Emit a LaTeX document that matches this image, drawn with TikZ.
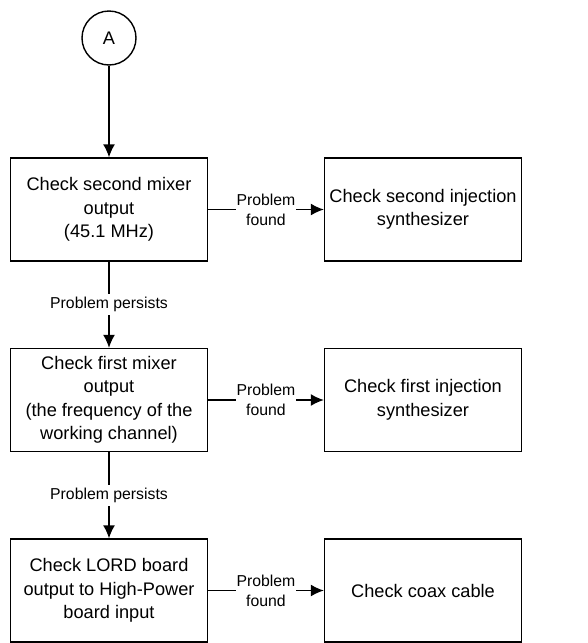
\documentclass[tikz,border=0pt]{standalone}
\usepackage{fontspec}
\setmainfont{Liberation Sans}
\usetikzlibrary{positioning,arrows.meta}
\newdimen\rowDist
\newdimen\colDist

\begin{document}
\begin{tikzpicture}[
    x=1pt, y=1pt,
    line width=1.4pt,
    check/.style={%
      draw,
      rectangle,
      minimum width=197pt,
      minimum height=103pt,
      align=center,
      font=\fontsize{18.2}{23.5}\selectfont,
    },
    connector/.style={%
      draw,
      circle,
      minimum size=54pt,
      inner sep=0pt,
      font=\fontsize{18.2}{23.5}\selectfont,
    },
    edgelabel/.style={%
      fill=white,
      align=center,
      inner xsep=1pt,
      inner ysep=3pt,
      font=\fontsize{15.8}{20}\selectfont,
    },
    arrow/.style={-{Latex[length=13pt,width=12pt]}},
  ]
    \rowDist=190.5pt
    \colDist=314pt
    \useasboundingbox (0,0) rectangle (587,-643);

    \node [connector] (A) at (109,-38) {A};
    \node [check] (B) at (109,-209.5) {Check second mixer\\output\\(45.1 MHz)};
    \path (B) ++(\colDist,0) node [check] (C) {Check second injection\\synthesizer};
    \path (B) ++(0,-\rowDist) node [check] (D) {Check first mixer\\output\\(the frequency of the\\working channel)};
    \path (D) ++(\colDist,0) node [check] (E) {Check first injection\\synthesizer};
    \path (D) ++(0,-\rowDist) node [check] (F) {Check LORD board\\output to High-Power\\board input};
    \path (F) ++(\colDist,0) node [check] (G) {Check coax cable};


    \draw [arrow] (A) -- (B);
    \draw [arrow] (B) -- (C) node [edgelabel,midway] {Problem\\found};
    \draw [arrow] (B) -- (D) node [edgelabel,midway] {Problem persists};
    \draw [arrow] (D) -- (E) node [edgelabel,midway] {Problem\\found};
    \draw [arrow] (D) -- (F) node [edgelabel,midway] {Problem persists};
    \draw [arrow] (F) -- (G) node [edgelabel,midway] {Problem\\found};
\end{tikzpicture}
\end{document}
